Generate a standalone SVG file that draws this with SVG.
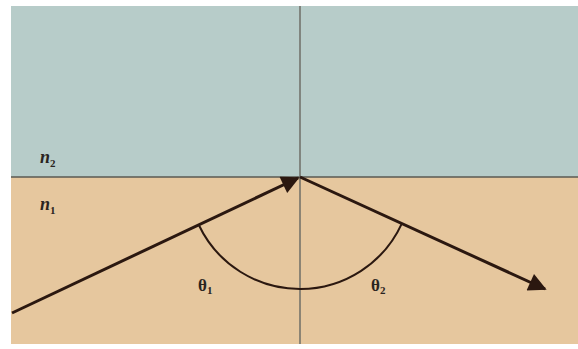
<svg xmlns="http://www.w3.org/2000/svg" width="578" height="349" viewBox="0 0 578 349">
<style>
.ray{stroke:#2b1810;stroke-width:3;fill:none}
.lbl{font-family:"Liberation Serif",serif;font-weight:bold;fill:#2a2420}
.sub{font-size:11px}
</style>
<defs>
<marker id="ah" viewBox="0 0 10 10" refX="9" refY="5" markerWidth="7" markerHeight="6" markerUnits="strokeWidth" orient="auto">
<path d="M0,0 L10,5 L0,10 z" fill="#2b1810"/>
</marker>
</defs>
<rect x="0" y="0" width="578" height="349" fill="#ffffff"/>
<g id="medium2"><rect x="11" y="6" width="567" height="171" fill="#b7ccc9"/></g>
<g id="medium1"><rect x="11" y="177" width="567" height="167" fill="#e6c79e"/></g>
<g id="interface"><line x1="11" y1="177" x2="578" y2="177" stroke="#5a5a52" stroke-width="1.5"/></g>
<g id="normal"><line x1="300" y1="6" x2="300" y2="344" stroke="#6e6e66" stroke-width="1.5"/></g>
<g id="connectors">
<line class="ray" x1="12" y1="313" x2="298" y2="178" marker-end="url(#ah)"/>
<line class="ray" x1="300" y1="177" x2="545" y2="289" marker-end="url(#ah)"/>
<path d="M198.7,224.8 A112,112 0 0 0 401.8,223.6" stroke="#2b1810" stroke-width="2" fill="none"/>
</g>
<g id="labels">
<text class="lbl" x="40" y="163" font-size="18" font-style="italic">n<tspan class="sub" dy="4" font-style="normal">2</tspan></text>
<text class="lbl" x="40" y="210" font-size="18" font-style="italic">n<tspan class="sub" dy="4" font-style="normal">1</tspan></text>
<text class="lbl" x="198" y="291" font-size="17">θ<tspan class="sub" dy="3">1</tspan></text>
<text class="lbl" x="371" y="291" font-size="17">θ<tspan class="sub" dy="3">2</tspan></text>
</g>
</svg>
